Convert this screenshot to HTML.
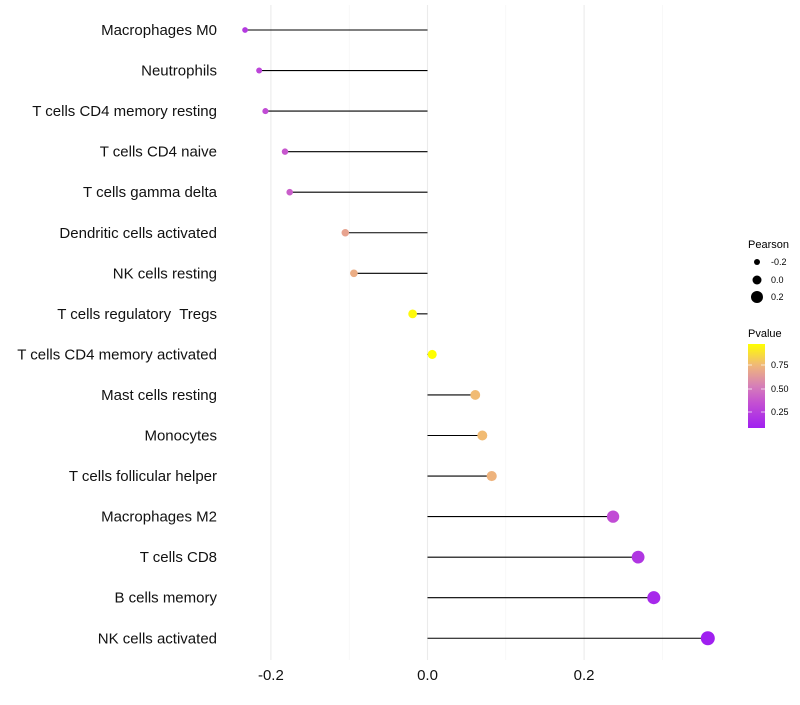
<!DOCTYPE html>
<html><head><meta charset="utf-8"><style>
body{margin:0;background:#fff;font-family:"Liberation Sans",sans-serif}
svg text{font-family:"Liberation Sans",sans-serif;white-space:pre}
</style></head><body>
<svg id="chart" width="800" height="700">
<defs><linearGradient id="pg" x1="0" y1="1" x2="0" y2="0">
<stop offset="0" stop-color="#a020f0"/><stop offset="0.3" stop-color="#c450d2"/><stop offset="0.5" stop-color="#d67fb8"/><stop offset="0.75" stop-color="#f0b878"/><stop offset="1" stop-color="#ffff00"/></linearGradient></defs>
<g id="grid"></g><g id="marks"></g><g id="axes"></g>
<g>
<text x="748" y="248" font-size="11" fill="#000">Pearson</text>
<circle cx="757" cy="262" r="3" fill="#000"/>
<circle cx="757" cy="280" r="4.5" fill="#000"/>
<circle cx="757" cy="297" r="6" fill="#000"/>
<text x="771" y="265" font-size="9">-0.2</text>
<text x="771" y="283" font-size="9">0.0</text>
<text x="771" y="300" font-size="9">0.2</text>
<text x="748" y="337" font-size="11">Pvalue</text>
<rect x="748" y="344" width="17" height="84" fill="url(#pg)"/>
<g stroke="#fff" stroke-width="1" opacity="0.7"><line x1="748" x2="752" y1="365" y2="365"/><line x1="761" x2="765" y1="365" y2="365"/><line x1="748" x2="752" y1="389" y2="389"/><line x1="761" x2="765" y1="389" y2="389"/><line x1="748" x2="752" y1="412" y2="412"/><line x1="761" x2="765" y1="412" y2="412"/></g>
<text x="771" y="368" font-size="9">0.75</text>
<text x="771" y="392" font-size="9">0.50</text>
<text x="771" y="415" font-size="9">0.25</text>
</g>
</svg>
<script>
const categories=["Macrophages M0","Neutrophils","T cells CD4 memory resting","T cells CD4 naive","T cells gamma delta","Dendritic cells activated","NK cells resting","T cells regulatory  Tregs","T cells CD4 memory activated","Mast cells resting","Monocytes","T cells follicular helper","Macrophages M2","T cells CD8","B cells memory","NK cells activated"];
const pearson=[-0.233,-0.215,-0.207,-0.182,-0.176,-0.105,-0.094,-0.019,0.006,0.061,0.070,0.082,0.237,0.269,0.289,0.358];
const pvalues=[0.2,0.25,0.28,0.33,0.36,0.66,0.7,0.95,0.99,0.76,0.76,0.73,0.28,0.18,0.12,0.06];
const xTicks=[-0.2,0.0,0.2];
const xTickLabels=["-0.2","0.0","0.2"];
const NS="http://www.w3.org/2000/svg";
function xs(v){return 427.5+v*783;}
function ys(i){return 30+i*40.55;}
function rs(v){return 4.5+7*v;}
function lerp(a,b,t){return a.map((c,i)=>Math.round(c+(b[i]-c)*t));}
function col(p){const stops=[[0.08,[160,32,240]],[0.3,[196,80,210]],[0.5,[214,127,184]],[0.75,[240,184,120]],[0.97,[255,255,0]]];
 if(p<=stops[0][0])return "rgb("+stops[0][1]+")";
 for(let i=1;i<stops.length;i++){if(p<=stops[i][0]){const t=(p-stops[i-1][0])/(stops[i][0]-stops[i-1][0]);return "rgb("+lerp(stops[i-1][1],stops[i][1],t)+")";}}
 return "rgb(255,255,0)";}
function mk(t,a,p){const e=document.createElementNS(NS,t);for(const k in a)e.setAttribute(k,a[k]);p.appendChild(e);return e;}
const grid=document.getElementById('grid'),marks=document.getElementById('marks'),axes=document.getElementById('axes');
[-0.2,-0.1,0,0.1,0.2,0.3].forEach((v,i)=>{const l=mk('line',{x1:xs(v),x2:xs(v),y1:5,y2:660,stroke:i%2?'#f3f3f3':'#ebebeb','stroke-width':i%2?0.6:1.1},grid);

});
categories.forEach((c,i)=>{
 const y=ys(i);
 const t=mk('text',{x:217,y:y+5,'text-anchor':'end','font-size':15,fill:'#111'},axes);t.textContent=c;
 
 
 const l=mk('line',{x1:xs(0),x2:xs(pearson[i]),y1:y,y2:y,stroke:'#000','stroke-width':1.1},marks);
 
 
 const ci=mk('circle',{cx:xs(pearson[i]),cy:y,r:rs(pearson[i]),fill:col(pvalues[i])},marks);
 
 
});
xTicks.forEach((v,i)=>{const t=mk('text',{x:xs(v),y:680,'text-anchor':'middle','font-size':15,fill:'#111'},axes);t.textContent=xTickLabels[i];
 
 });
</script>
</body></html>
